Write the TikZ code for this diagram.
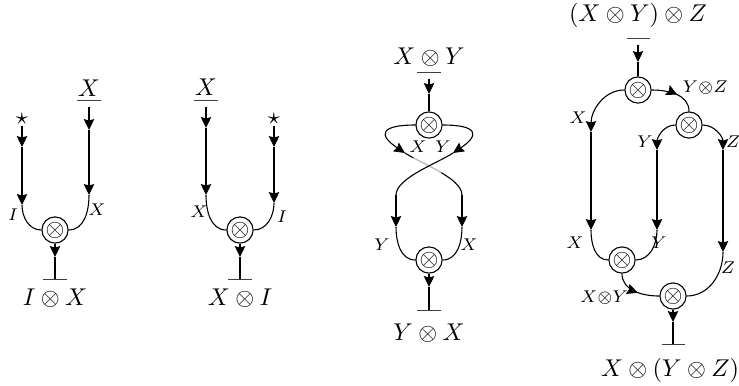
\documentclass[tikz,border=0pt]{standalone}
\usetikzlibrary{arrows.meta,decorations.markings}
\tikzset{
  x=0.412pt, y=-0.412pt,
  >={Stealth[length=4.5pt,width=4.3pt,inset=0.6pt]},
  every path/.style={line width=0.45pt},
  tens/.style={circle,draw,minimum size=10.8pt,inner sep=0pt},
  lab/.style={inner sep=0pt},
  obj/.style={inner sep=0pt},
  barline/.style={line width=0.3pt,draw=black!75},
  starnode/.style={inner sep=0.2pt,font=\normalsize},
  midarr/.style={postaction={decorate},decoration={markings,mark=at position #1 with {\arrow{>}}}},
  underpart/.style={draw=white,opacity=0.7,line width=0.9pt,dash pattern=on 0pt off 4pt on 13pt off 100pt}
}
\begin{document}
\begin{tikzpicture}
\useasboundingbox (0,0) rectangle (739,385);

% ---------- diagram 1 ----------
\node[tens] (t1) at (55,230) {$\otimes$};
\node[starnode] (s1) at (22,119) {$\star$};
\coordinate (s1a) at (22,147);
\coordinate (s1b) at (22,205);
\draw[->] (s1.south) -- (s1a);
\draw[->] (s1a) -- (s1b);
\draw (s1b) to[out=-90,in=180] (t1.west);
\node[obj] (x1) at (89,88) {$X$};
\coordinate (x1bl) at (77,100); \coordinate (x1br) at (101,100);
\draw[barline] (x1bl) -- (x1br);
\coordinate (x1w) at (89,107);
\coordinate (x1a) at (89,130);
\coordinate (x1b) at (89,195);
\draw[->] (x1w) -- (x1a);
\draw[->] (x1a) -- (x1b);
\draw (x1b) to[out=-90,in=0] (t1.east);
\node[lab] (l1i) at (13,215) {$\scriptstyle I$};
\node[lab] (l1x) at (97,210) {$\scriptstyle X$};
\coordinate (t1a) at (55,257);
\coordinate (t1b) at (55,279);
\draw[->] (t1.south) -- (t1a);
\draw (t1a) -- (t1b);
\coordinate (t1bl) at (43,279); \coordinate (t1br) at (67,279);
\draw[barline] (t1bl) -- (t1br);
\node[obj] (o1) at (55,298) {$I\otimes X$};

% ---------- diagram 2 ----------
\node[tens] (t2) at (240,230) {$\otimes$};
\node[obj] (x2) at (206,87) {$X$};
\coordinate (x2bl) at (194,100); \coordinate (x2br) at (218,100);
\draw[barline] (x2bl) -- (x2br);
\coordinate (x2w) at (206,107);
\coordinate (x2a) at (206,128);
\coordinate (x2b) at (206,195);
\draw[->] (x2w) -- (x2a);
\draw[->] (x2a) -- (x2b);
\draw (x2b) to[out=-90,in=180] (t2.west);
\node[starnode] (s2) at (274,119) {$\star$};
\coordinate (s2a) at (274,147);
\coordinate (s2b) at (274,203);
\draw[->] (s2.south) -- (s2a);
\draw[->] (s2a) -- (s2b);
\draw (s2b) to[out=-90,in=0] (t2.east);
\node[lab] (l2x) at (199,212) {$\scriptstyle X$};
\node[lab] (l2i) at (282,217) {$\scriptstyle I$};
\coordinate (t2a) at (240,257);
\coordinate (t2b) at (240,279);
\draw[->] (t2.south) -- (t2a);
\draw (t2a) -- (t2b);
\coordinate (t2bl) at (228,279); \coordinate (t2br) at (252,279);
\draw[barline] (t2bl) -- (t2br);
\node[obj] (o2) at (240,298) {$X\otimes I$};

% ---------- diagram 3 ----------
\node[obj] (x3) at (429,57) {$X\otimes Y$};
\coordinate (x3bl) at (417,72); \coordinate (x3br) at (441,72);
\draw[barline] (x3bl) -- (x3br);
\coordinate (x3w) at (429,79);
\coordinate (x3a) at (429,94);
\node[tens] (t3) at (429,125) {$\otimes$};
\draw[->] (x3w) -- (x3a);
\draw (x3a) -- (t3.north);
\coordinate (t3xl) at (405,153);
\coordinate (t3yr) at (453,153);
\draw[->] (t3.west) .. controls (380,125) and (378,135) .. (t3xl);
\draw[->] (t3.east) .. controls (478,125) and (480,135) .. (t3yr);
\node[lab] (l3x) at (418,147) {$\scriptstyle X$};
\node[lab] (l3y) at (443,147) {$\scriptstyle Y$};
\coordinate (v3l) at (396,195); \coordinate (v3r) at (462,195);
\coordinate (a3l) at (396,227); \coordinate (a3r) at (462,227);
% under strand (X)
\draw (t3xl) .. controls (420,163) and (462,178) .. (v3r);
\path[underpart] (t3xl) .. controls (420,163) and (462,178) .. (v3r);
% over strand (Y)
\draw (t3yr) .. controls (438,163) and (396,178) .. (v3l);
\node[tens] (b3) at (429,260) {$\otimes$};
\draw[->] (v3l) -- (a3l);
\draw (a3l) to[out=-90,in=180] (b3.west);
\draw[->] (v3r) -- (a3r);
\draw (a3r) to[out=-90,in=0] (b3.east);
\node[lab] (l3by) at (382,245) {$\scriptstyle Y$};
\node[lab] (l3bx) at (469,245) {$\scriptstyle X$};
\coordinate (b3a) at (429,287);
\coordinate (b3b) at (429,310);
\draw[->] (b3.south) -- (b3a);
\draw (b3a) -- (b3b);
\coordinate (b3bl) at (417,310); \coordinate (b3br) at (441,310);
\draw[barline] (b3bl) -- (b3br);
\node[obj] (o3) at (429,333) {$Y\otimes X$};

% ---------- diagram 4 ----------
\node[obj] (x4) at (638,15) {$(X\otimes Y)\otimes Z$};
\coordinate (x4bl) at (627,38); \coordinate (x4br) at (650,38);
\draw[barline] (x4bl) -- (x4br);
\coordinate (x4w) at (638,45);
\coordinate (x4a) at (638,62);
\node[tens] (a4) at (638,90) {$\otimes$};
\draw[->] (x4w) -- (x4a);
\draw (x4a) -- (a4.north);
\node[tens] (b4) at (689,125) {$\otimes$};
\node[tens] (c4) at (622,260) {$\otimes$};
\node[tens] (d4) at (673,296) {$\otimes$};
% X wire
\coordinate (p4x1) at (591,132);
\coordinate (p4x2) at (591,230);
\draw[->] (a4.west) to[out=180,in=90] (p4x1);
\draw[->] (p4x1) -- (p4x2);
\draw (p4x2) to[out=-90,in=180] (c4.west);
% Y(x)Z wire
\draw[midarr=0.55] (a4.east) to[out=0,in=90] (b4.north);
% Y wire
\coordinate (p4y1) at (657,150);
\coordinate (p4y2) at (657,230);
\draw[->] (b4.west) to[out=180,in=90] (p4y1);
\draw[->] (p4y1) -- (p4y2);
\draw (p4y2) to[out=-90,in=0] (c4.east);
% Z wire
\coordinate (p4z1) at (723,150);
\coordinate (p4z2) at (723,252);
\draw[->] (b4.east) to[out=0,in=90] (p4z1);
\draw[->] (p4z1) -- (p4z2);
\draw (p4z2) to[out=-90,in=0] (d4.east);
% X(x)Y wire
\draw[midarr=0.55] (c4.south) to[out=-90,in=180] (d4.west);
% output
\coordinate (d4a) at (673,322);
\coordinate (d4b) at (673,344);
\draw[->] (d4.south) -- (d4a);
\draw (d4a) -- (d4b);
\coordinate (d4bl) at (662,344); \coordinate (d4br) at (685,344);
\draw[barline] (d4bl) -- (d4br);
\node[obj] (o4) at (670,370) {$X\otimes(Y\otimes Z)$};
% labels
\node[lab,anchor=west] (l4yz) at (682,88) {$\scriptstyle Y\otimes Z$};
\node[lab] (l4x) at (578,118) {$\scriptstyle X$};
\node[lab] (l4y) at (645,142) {$\scriptstyle Y$};
\node[lab] (l4z) at (733,142) {$\scriptstyle Z$};
\node[lab] (l4bx) at (575,243) {$\scriptstyle X$};
\node[lab] (l4by) at (659,243) {$\scriptstyle Y$};
\node[lab] (l4bz) at (728,268) {$\scriptstyle Z$};
\node[lab] (l4xy) at (604,298) {$\scriptstyle X\otimes Y$};
\end{tikzpicture}
\end{document}
